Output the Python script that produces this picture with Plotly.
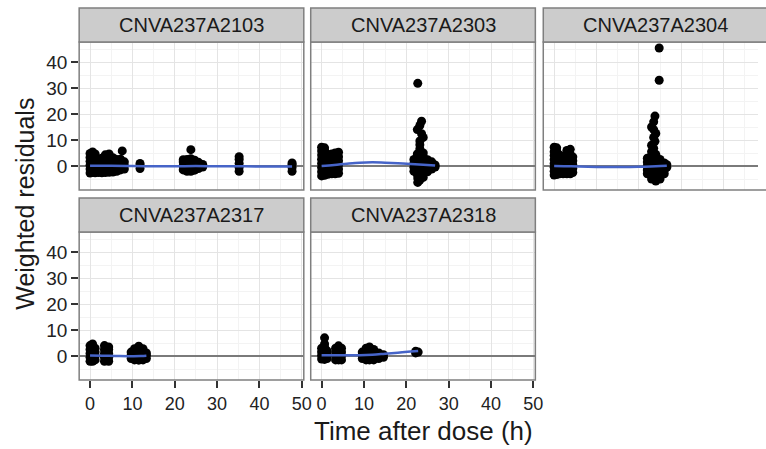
import plotly.graph_objects as go

# ---------------- data ----------------
subjects = ["CNVA237A2103", "CNVA237A2303", "CNVA237A2304", "CNVA237A2317", "CNVA237A2318"]

# observations: (time after dose, [weighted residuals at that time])
obs_2103 = [
    (0.0, [-2.7, -1.2, 0.3, 1.8, 3.3, 4.8]),
    (0.6, [-2.5, -1.0, 0.5, 2.0, 3.5, 5.4]),
    (1.2, [-2.6, -1.1, 0.4, 1.9, 3.4, 4.6]),
    (2.0, [-2.5, -1.0, 0.5, 2.0, 2.7]),
    (2.8, [-2.6, -1.1, 0.4, 1.9, 3.0]),
    (3.6, [-2.5, -1.0, 0.5, 2.0, 3.5, 4.3]),
    (4.5, [-2.4, -0.9, 0.6, 2.1, 3.6, 4.6]),
    (5.4, [-2.3, -0.8, 0.7, 2.2, 3.2]),
    (6.3, [-2.0, -0.5, 1.0, 2.5]),
    (7.2, [-1.5, 0.0, 1.5, 2.6]),
    (7.6, [5.8]),
    (8.1, [-1.2, 0.2, 1.6]),
    (11.8, [-1.0, 0.2, 1.0]),
    (22.0, [-1.5, 0.0, 1.5, 2.4]),
    (22.9, [-2.0, -0.5, 1.0, 2.5]),
    (23.8, [-2.0, -0.5, 1.0, 2.8, 6.3]),
    (24.7, [-1.6, -0.1, 1.4, 2.2]),
    (25.6, [-1.0, 0.4, 1.4]),
    (26.6, [-0.4, 0.6]),
    (35.2, [-2.0, -0.5, 1.0, 2.5, 3.6]),
    (47.7, [-2.0, -0.6, 0.6, 1.2]),
]
obs_2303 = [
    (0.0, [-3.8, -2.2, -0.6, 1.0, 2.6, 4.2, 5.8, 7.2]),
    (0.7, [-3.6, -2.0, -0.4, 1.2, 2.8, 4.4, 6.0, 7.0]),
    (1.5, [-3.2, -1.6, 0.0, 1.6, 3.2, 4.4]),
    (2.4, [-3.0, -1.4, 0.2, 1.8, 3.4, 4.6]),
    (3.2, [-3.0, -1.4, 0.2, 1.8, 3.4, 5.0]),
    (4.0, [-2.8, -1.2, 0.4, 2.0, 3.6, 5.3]),
    (21.8, [-2.0, -0.5, 1.0, 2.5]),
    (22.6, [-3.2, -1.6, 0.0, 1.6, 3.2, 4.6, 14.0]),
    (22.7, [-4.6, -6.3, 31.8]),
    (23.2, [-5.4, -3.0, -1.4, 0.2, 1.8, 3.4, 5.0, 6.6, 8.2, 9.6, 15.6]),
    (23.6, [17.2, 12.4]),
    (24.0, [-4.4, -2.8, -1.2, 0.4, 2.0, 3.6, 5.0, 11.0]),
    (25.0, [-2.2, -0.6, 1.0, 2.4]),
    (26.0, [-1.2, 0.4, 1.6]),
    (26.8, [-0.4, 0.4]),
]
obs_2304 = [
    (0.0, [-3.5, -2.0, -0.5, 1.0, 2.5, 4.0, 5.5, 7.2]),
    (0.6, [-3.3, -1.8, -0.3, 1.2, 2.7, 4.2, 5.7, 7.0]),
    (1.3, [-3.0, -1.5, 0.0, 1.5, 3.0, 4.2]),
    (2.1, [-3.0, -1.5, 0.0, 1.5, 3.0, 3.8]),
    (3.0, [-3.0, -1.5, 0.0, 1.5, 3.0, 4.5, 6.0]),
    (3.8, [-3.0, -1.5, 0.0, 1.5, 3.0, 4.5, 6.4]),
    (4.4, [-2.5, -1.0, 0.5, 2.0, 3.5]),
    (22.0, [-3.0, -1.5, 0.0, 1.5, 3.0]),
    (23.0, [-5.0, -3.5, -2.0, -0.5, 1.0, 2.5, 4.0, 5.5, 8.0, 15.0]),
    (23.5, [6.8, 11.0, 14.0, 17.0]),
    (23.8, [19.2, 9.5]),
    (24.0, [-5.8, -4.3, -2.8, -1.3, 0.2, 1.7, 3.2, 4.5, 12.5]),
    (24.8, [45.4, 33.0]),
    (25.0, [-5.0, -3.5, -2.0, -0.5, 1.0, 2.5]),
    (26.0, [-3.0, -1.5, 0.0, 1.2]),
    (26.6, [-0.5, 0.5]),
]
obs_2317 = [
    (0.0, [-2.0, -0.5, 1.0, 2.5, 4.0]),
    (0.6, [-2.0, -0.5, 1.0, 2.5, 4.6]),
    (1.2, [-1.5, 0.0, 1.5, 3.0]),
    (3.4, [-2.0, -0.5, 1.0, 2.5, 4.0]),
    (4.4, [-2.0, -0.5, 1.0, 2.5, 3.5]),
    (9.7, [-1.0, 0.3, 1.5]),
    (10.5, [-1.5, 0.0, 1.5, 2.8]),
    (11.5, [-1.6, -0.1, 1.4, 2.9, 3.8]),
    (12.5, [-1.5, 0.0, 1.5, 2.8]),
    (13.3, [-1.0, 0.3, 1.2]),
]
obs_2318 = [
    (0.0, [-1.2, 0.2, 1.6, 3.0]),
    (0.7, [-1.3, 0.1, 1.6, 3.3, 4.6, 7.0]),
    (1.3, [-1.0, 0.5, 2.0]),
    (3.3, [-1.5, 0.0, 1.5, 3.0]),
    (4.0, [-1.5, 0.0, 1.5, 3.0, 3.9]),
    (4.7, [-1.5, 0.0, 1.5, 3.0]),
    (9.6, [-1.0, 0.5, 1.5]),
    (10.5, [-1.5, 0.0, 1.5, 3.0]),
    (11.3, [-1.5, 0.0, 1.5, 3.0, 3.5]),
    (12.3, [-1.5, 0.0, 1.5, 2.5]),
    (13.5, [-1.0, 0.3, 1.2]),
    (14.6, [-0.5, 0.5]),
    (22.2, [1.2, 1.8]),
    (22.8, [1.5]),
]

# loess smooth curves
smooth_t_2103 = [0, 5, 10, 15, 20, 25, 30, 35, 40, 47.7]
smooth_r_2103 = [0.1, 0.1, 0.0, -0.1, -0.1, 0.0, -0.1, -0.1, -0.2, -0.2]
smooth_t_2303 = [0, 3, 6, 9, 12, 15, 18, 21, 24, 26.8]
smooth_r_2303 = [0.0, 0.4, 0.9, 1.3, 1.4, 1.3, 1.1, 0.8, 0.5, 0.2]
smooth_t_2304 = [0, 4, 8, 12, 16, 20, 24, 26.6]
smooth_r_2304 = [0.0, -0.1, -0.3, -0.4, -0.4, -0.3, -0.1, 0.1]
smooth_t_2317 = [0, 3, 6, 9, 12, 13.3]
smooth_r_2317 = [0.2, 0.1, 0.0, -0.1, 0.0, 0.1]
smooth_t_2318 = [0, 3, 6, 9, 12, 15, 18, 21, 22.8]
smooth_r_2318 = [0.3, 0.3, 0.3, 0.3, 0.5, 0.9, 1.3, 1.7, 1.9]

x_ticks = [0, 10, 20, 30, 40, 50]
y_ticks = [0, 10, 20, 30, 40]
ref_level = 0

all_obs = [obs_2103, obs_2303, obs_2304, obs_2317, obs_2318]
all_smooth = [(smooth_t_2103, smooth_r_2103), (smooth_t_2303, smooth_r_2303),
              (smooth_t_2304, smooth_r_2304), (smooth_t_2317, smooth_r_2317),
              (smooth_t_2318, smooth_r_2318)]

# ---------------- layout ----------------
W, H = 766, 449
FONT = "Liberation Sans, Arial, Helvetica, sans-serif"
panels = [(80, 307, 42, 190), (314, 541, 42, 190), (549, 776, 42, 190),
          (80, 307, 232, 380), (314, 541, 232, 380)]
STRIP_H = 34
PX_PER_X = 4.28
X0_OFF = 11
Y_RANGE = [-9.23, 47.7]


def px(v):
    return v / W


def py(v):
    return 1 - v / H


fig = go.Figure()
layout = dict(
    width=W, height=H, margin=dict(l=0, r=0, t=0, b=0),
    paper_bgcolor="white", plot_bgcolor="white", showlegend=False,
    font=dict(family=FONT, color="#1a1a1a"),
)
shapes = []
annotations = []

for i, (l, r, t, b) in enumerate(panels):
    n = i + 1
    xa = "x" if n == 1 else f"x{n}"
    ya = "y" if n == 1 else f"y{n}"
    rr = min(r, W)
    xr = [-X0_OFF / PX_PER_X, (rr - l - X0_OFF) / PX_PER_X]
    show_x = i >= 3
    show_y = i in (0, 3)
    layout["xaxis" if n == 1 else f"xaxis{n}"] = dict(
        domain=[px(l), px(rr)], range=xr, anchor=ya,
        tickvals=x_ticks, showticklabels=show_x,
        ticks="outside" if show_x else "", ticklen=7, tickwidth=2, tickcolor="#333333",
        tickfont=dict(size=18, color="#222222", family=FONT),
        showgrid=True, gridcolor="#e4e4e4", gridwidth=1,
        minor=dict(tick0=5, dtick=10, showgrid=True, gridcolor="#f3f3f3", gridwidth=1),
        zeroline=False, showline=False, fixedrange=True,
    )
    layout["yaxis" if n == 1 else f"yaxis{n}"] = dict(
        domain=[py(b), py(t)], range=Y_RANGE, anchor=xa,
        tickvals=y_ticks, showticklabels=show_y,
        ticks="outside" if show_y else "", ticklen=7, tickwidth=2, tickcolor="#333333",
        tickfont=dict(size=19, color="#222222", family=FONT),
        showgrid=True, gridcolor="#e4e4e4", gridwidth=1,
        minor=dict(tick0=5, dtick=10, showgrid=True, gridcolor="#f3f3f3", gridwidth=1),
        zeroline=False, showline=False, fixedrange=True,
    )

    # zero reference line
    fig.add_trace(go.Scatter(x=xr, y=[ref_level, ref_level], mode="lines", xaxis=xa, yaxis=ya,
                             line=dict(color="#7a7a7a", width=2), hoverinfo="skip"))

    # observations
    xs, ys = [], []
    for tt, vals in all_obs[i]:
        for v in vals:
            xs.append(tt)
            ys.append(v)
    fig.add_trace(go.Scatter(x=xs, y=ys, mode="markers", xaxis=xa, yaxis=ya,
                             marker=dict(color="black", size=9, line=dict(width=0)),
                             hoverinfo="skip"))
    st, sr = all_smooth[i]
    fig.add_trace(go.Scatter(x=st, y=sr, mode="lines", xaxis=xa, yaxis=ya,
                             line=dict(color="rgb(70,100,200)", width=2.5, shape="spline"),
                             hoverinfo="skip"))

    # panel border
    shapes.append(dict(type="rect", xref="paper", yref="paper",
                       x0=px(l), x1=px(r), y0=py(b), y1=py(t),
                       line=dict(color="#7f7f7f", width=1.5), fillcolor="rgba(0,0,0,0)",
                       layer="above"))
    # strip
    shapes.append(dict(type="rect", xref="paper", yref="paper",
                       x0=px(l), x1=px(r), y0=py(t), y1=py(t - STRIP_H),
                       line=dict(color="#7f7f7f", width=1.5), fillcolor="#cccccc",
                       layer="above"))
    annotations.append(dict(text=subjects[i], xref="paper", yref="paper",
                            x=px((l + r) / 2), y=py(t - STRIP_H / 2),
                            xanchor="center", yanchor="middle", showarrow=False,
                            font=dict(size=20, color="#1a1a1a", family=FONT)))

annotations.append(dict(text="Weighted residuals", xref="paper", yref="paper",
                        x=px(25), y=py(204), textangle=-90, xanchor="center",
                        yanchor="middle", showarrow=False,
                        font=dict(size=25, color="#1a1a1a", family=FONT)))
annotations.append(dict(text="Time after dose (h)", xref="paper", yref="paper",
                        x=px(428), y=py(431), xanchor="center", yanchor="middle",
                        showarrow=False,
                        font=dict(size=26, color="#1a1a1a", family=FONT)))

layout["shapes"] = shapes
layout["annotations"] = annotations
fig.update_layout(**layout)
fig.write_html("out.html")
